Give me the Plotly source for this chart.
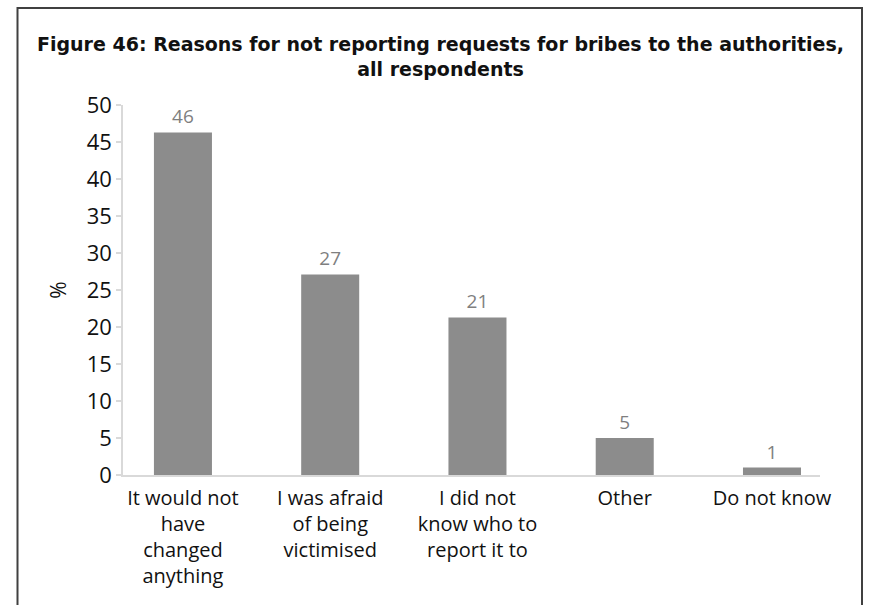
import plotly.graph_objects as go

categories = ["It would not<br>have<br>changed<br>anything",
              "I was afraid<br>of being<br>victimised",
              "I did not<br>know who to<br>report it to",
              "Other",
              "Do not know"]
values = [46.3, 27.1, 21.3, 5.0, 1.0]
labels = ["46", "27", "21", "5", "1"]
y_ticks = [0, 5, 10, 15, 20, 25, 30, 35, 40, 45, 50]

L, R, T, B = 123, 49, 105, 130
W, H = 869, 605
pw = W - L - R
ph = H - T - B

def px_x(p):
    return (p - L) / pw

def px_y(p):
    return (H - B - p) / ph

fig = go.Figure()
fig.add_trace(go.Bar(
    x=categories, y=values, text=labels, textposition="outside",
    textfont=dict(family="Open Sans", size=19, color="#7f7f7f"),
    marker=dict(color="#8c8c8c", line=dict(width=0)),
    width=0.394, cliponaxis=False, hoverinfo="skip",
))

fig.update_layout(
    width=W, height=H,
    margin=dict(l=L, r=R, t=T, b=B),
    paper_bgcolor="white", plot_bgcolor="white",
    showlegend=False,
    font=dict(family="Open Sans", size=21, color="#111111"),
    xaxis=dict(
        type="category", range=[-0.407, 4.326],
        showline=True, linecolor="#d9d9d9", linewidth=1.5,
        ticks="", showgrid=False, zeroline=False,
        ticklabelstandoff=4,
        tickfont=dict(family="Open Sans", size=20, color="#111111"),
    ),
    yaxis=dict(
        range=[0, 50], tickvals=y_ticks,
        showline=True, linecolor="#d9d9d9", linewidth=1.5,
        ticks="outside", ticklen=5, tickcolor="#d9d9d9", tickwidth=1.5,
        showgrid=False, zeroline=False,
        tickfont=dict(family="Open Sans", size=22, color="#111111"),
        title=dict(text="%", font=dict(family="Open Sans", size=21, color="#111111"), standoff=14),
    ),
)

fig.add_annotation(
    xref="paper", yref="paper", x=px_x(440), y=px_y(56),
    text="<b>Figure 46: Reasons for not reporting requests for bribes to the authorities,<br>all respondents</b>",
    showarrow=False, xanchor="center", yanchor="middle",
    font=dict(family="DejaVu Sans", size=19, color="#111111"),
)

fig.add_shape(
    type="rect", xref="paper", yref="paper",
    x0=px_x(17.5), x1=px_x(862), y0=px_y(8), y1=px_y(700),
    line=dict(color="#404040", width=2), fillcolor="rgba(0,0,0,0)",
    layer="above",
)

fig.write_html("out.html")
